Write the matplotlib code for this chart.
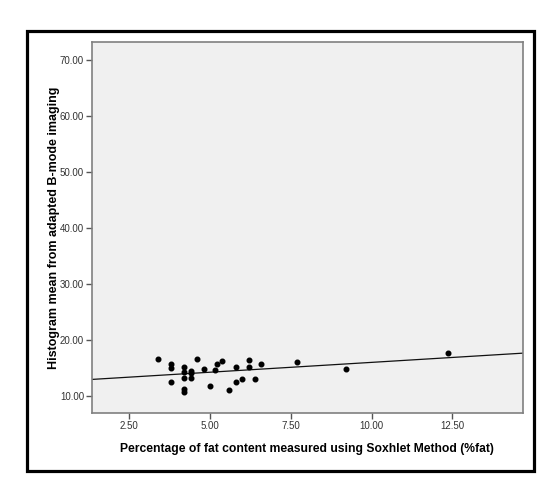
import matplotlib
matplotlib.use('Agg')
import matplotlib.pyplot as plt
from matplotlib.patches import Rectangle

plt.rcParams['font.family'] = ['Liberation Sans', 'DejaVu Sans']

# values
fat_pct = [3.39, 3.80, 3.80, 3.80, 4.20, 4.20, 4.20, 4.20, 4.20,
           4.40, 4.40, 4.40, 4.60, 4.80, 5.00, 5.14, 5.22, 5.36,
           5.59, 5.79, 5.79, 5.99, 6.21, 6.21, 6.39, 6.59, 7.70,
           9.20, 12.36]
hist_mean = [16.6, 15.6, 14.9, 12.5, 15.2, 14.15, 13.1, 11.2, 10.7,
             14.45, 14.1, 13.1, 16.6, 14.77, 11.8, 14.6, 15.66, 16.14,
             11.0, 15.2, 12.45, 12.98, 16.3, 15.2, 12.93, 15.6, 16.1,
             14.7, 17.6]

# fit line as drawn in the picture
fit_intercept = 12.43
fit_slope = 0.352

x_ticks = [2.5, 5.0, 7.5, 10.0, 12.5]
y_ticks = [10, 20, 30, 40, 50, 60, 70]
x_lim = (1.336, 14.68)
y_lim = (6.9, 73.16)

fig = plt.figure(figsize=(5.56, 4.94), dpi=100)
ax = fig.add_axes([0.165, 0.164, 0.775, 0.750])
ax.set_facecolor('#f0f0f0')

ax.scatter(fat_pct, hist_mean, s=11, color='black', zorder=3)
ax.plot(list(x_lim), [fit_intercept + fit_slope * v for v in x_lim],
        color='#111111', lw=0.9)

ax.set_xlim(x_lim)
ax.set_ylim(y_lim)
ax.set_xticks(x_ticks)
ax.set_yticks(y_ticks)
ax.set_xticklabels(['%.2f' % v for v in x_ticks])
ax.set_yticklabels(['%.2f' % v for v in y_ticks])
ax.tick_params(direction='out', length=4, width=1, color='#555555',
               labelsize=7, labelcolor='#333333', pad=1.5)

for sp in ax.spines.values():
    sp.set_color('#808080')
    sp.set_linewidth(1.2)

ax.set_xlabel('Percentage of fat content measured using Soxhlet Method (%fat)',
              fontsize=8.7, fontweight='bold', labelpad=9)
ax.set_ylabel('Histogram mean from adapted B-mode imaging',
              fontsize=9.0, fontweight='bold', labelpad=0)

# black frame round the whole chart
fig.patches.append(Rectangle((0.049, 0.0466), 0.911, 0.891,
                             transform=fig.transFigure, fill=False,
                             edgecolor='black', linewidth=2.3))

plt.savefig('out.png', dpi=100)
